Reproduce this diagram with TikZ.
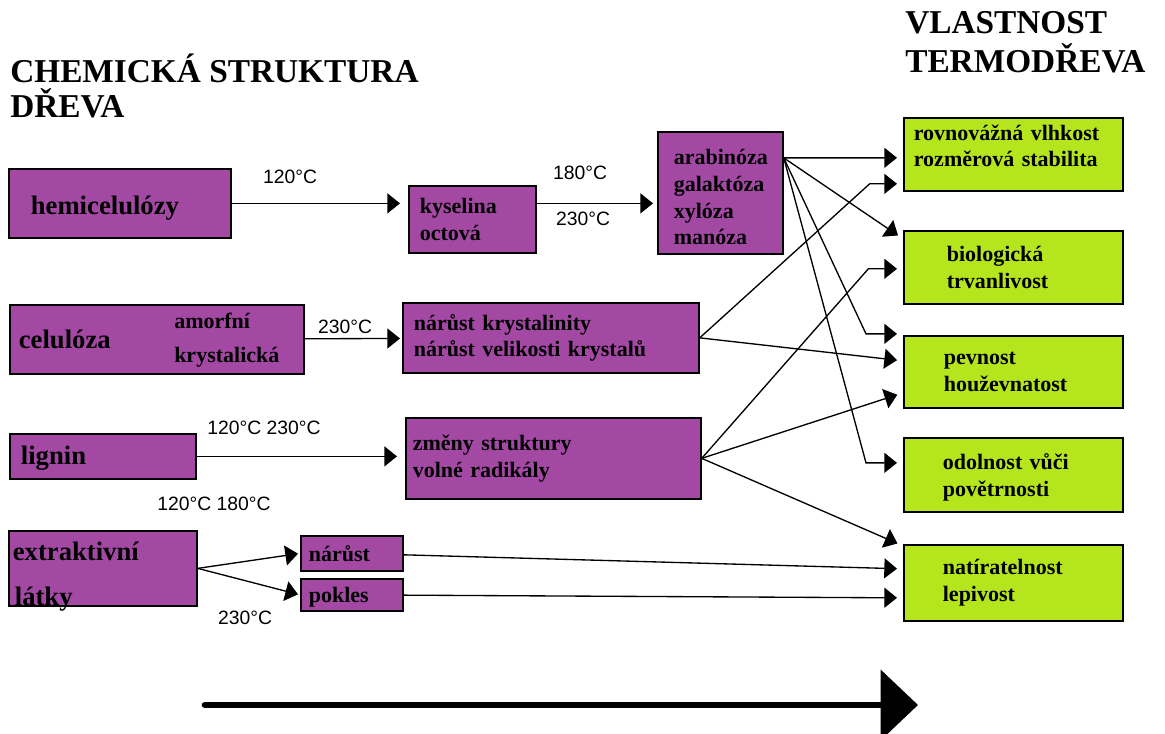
\documentclass[tikz,border=0pt]{standalone}
\usepackage{fontspec}
\setmainfont{Liberation Serif}
\newfontfamily\tempfont{Liberation Sans}
\usetikzlibrary{arrows.meta}
\definecolor{fialova}{RGB}{163,73,164}
\definecolor{zelena}{RGB}{181,230,29}
\tikzstyle{chembox}=[rectangle,anchor=north west,draw=black,line width=1.3pt,fill=fialova,align=left,inner ysep=0pt,font=\fontsize{16.5}{20}\selectfont\bfseries]
\tikzstyle{bigtext}=[font=\fontsize{20}{34}\selectfont\bfseries]
\tikzstyle{propbox}=[rectangle,anchor=north west,draw=black,line width=1.3pt,fill=zelena,align=left,inner ysep=0pt,minimum width=164.25pt,font=\fontsize{16.5}{20}\selectfont\bfseries]
\tikzstyle{teplota}=[inner sep=0pt,font=\tempfont\fontsize{14.5}{16}\selectfont]
\tikzstyle{titul}=[anchor=west,align=left,inner sep=0pt,font=\fontsize{25}{26}\selectfont\bfseries]
\tikzstyle{arrow}=[line width=1pt,->,>={Triangle[length=9.5pt,width=15pt]},shorten >=4.5pt]
\tikzstyle{bigarrow}=[line width=5pt,line cap=round,->,>={Triangle[length=28pt,width=52pt]}]

\begin{document}
\begin{tikzpicture}[x=0.75pt,y=-0.75pt]
    \useasboundingbox (0,0) rectangle (1165,734);
    % nadpisy
    \node (chemie)[titul] at (10,86) {CHEMICKÁ STRUKTURA\\DŘEVA};
    \node (vlastnost)[titul,font=\fontsize{25}{29}\selectfont\bfseries] at (905,42) {VLASTNOST\\TERMODŘEVA};
    % chemicka struktura
    \node (hemi)[chembox,bigtext,minimum width=166.5pt,minimum height=51.75pt,inner xsep=16.5pt,text width=133.5pt] at (8,168) {\rule{0pt}{21pt}hemicelulózy};
    \node (kyselina)[chembox,minimum width=95.25pt,minimum height=50.25pt,inner xsep=8.25pt,text width=78.75pt] at (408,185) {kyselina\\octová};
    \node (cukry)[chembox,minimum width=93.75pt,minimum height=91.5pt,inner xsep=12pt,text width=69.75pt] at (657,131) {\rule{0pt}{18pt}arabinóza\\galaktóza\\xylóza\\manóza};
    \node (celuloza)[chembox,bigtext,minimum width=220.5pt,minimum height=51.75pt,inner xsep=6.75pt,text width=207pt] at (9,304) {celulóza};
    \node (celtyp)[anchor=west,align=left,inner sep=0pt,font=\fontsize{16.5}{25.5}\selectfont\bfseries] at (174,340) {amorfní\\ krystalická};
    \node (krystal)[chembox,minimum width=222pt,minimum height=52.5pt,inner xsep=8.25pt,text width=205.5pt] at (402,302) {nárůst krystalinity\\nárůst velikosti krystalů};
    \node (lignin)[chembox,bigtext,minimum width=139.5pt,minimum height=33.75pt,inner xsep=8.25pt,text width=123pt] at (9,433) {\rule{0pt}{17pt}lignin};
    \node (zmeny)[chembox,minimum width=221.25pt,minimum height=60.75pt,inner xsep=5.25pt,text width=210.75pt] at (405,417) {změny struktury\\volné radikály};
    \node (extrakt)[chembox,bigtext,minimum width=141pt,minimum height=56.25pt,inner xsep=3pt,text width=135pt] at (8,530) {\rule{0pt}{22pt}extraktivní\\ \hspace*{1.5pt}\smash{látky}};
    \node (narust)[chembox,minimum width=76.5pt,minimum height=26.25pt,inner xsep=6pt,text width=64.5pt] at (300,535) {nárůst};
    \node (pokles)[chembox,minimum width=76.5pt,minimum height=24pt,inner xsep=6pt,text width=64.5pt] at (300,578) {\rule{0pt}{15pt}pokles};
    % vlastnosti termodreva
    \node (vlhkost)[propbox,minimum height=54.75pt,inner xsep=7.5pt,text width=149.25pt] at (903,117) {rovnovážná vlhkost\\rozměrová stabilita\rule[-13pt]{0pt}{13pt}};
    \node (bio)[propbox,minimum height=54.75pt,inner xsep=32.25pt,text width=99.75pt] at (903,230) {biologická\\trvanlivost};
    \node (pevnost)[propbox,minimum height=54pt,inner xsep=30pt,text width=104.25pt] at (903,335) {pevnost\\houževnatost};
    \node (odolnost)[propbox,minimum height=55.5pt,inner xsep=29.25pt,text width=105.75pt] at (903,437) {\rule{0pt}{16pt}odolnost vůči\\povětrnosti};
    \node (natir)[propbox,minimum height=57pt,inner xsep=29.25pt,text width=105.75pt] at (903,544) {natíratelnost\\lepivost};
    % teploty
    \node (t1)[teplota] at (290,177) {120°C};
    \node (t2)[teplota] at (580,173) {180°C};
    \node (t3)[teplota] at (583,219) {230°C};
    \node (t4)[teplota] at (345,327) {230°C};
    \node (t5)[teplota] at (264,428) {120°C 230°C};
    \node (t6)[teplota] at (214,504) {120°C 180°C};
    \node (t7)[teplota] at (245,618) {230°C};
    % sipky
    \coordinate (cukryven) at ([yshift=26.25pt]cukry.east);
    \draw [arrow,shorten >=6pt] (hemi) -- (hemi -| kyselina.west);
    \draw [arrow,shorten >=3pt] (kyselina.east |- hemi) -- (cukry.west |- hemi);
    \draw [arrow,shorten >=1.5pt] (celuloza) -- (krystal);
    \draw [arrow,shorten >=6pt] (lignin) -- (lignin -| zmeny.west);
    \draw [arrow,shorten >=1.5pt] (extrakt.east) -- (narust.west);
    \draw [arrow,shorten >=1.5pt] (extrakt.east) -- (pokles.west);
    \draw [arrow] (cukryven) -- ([yshift=-2.6pt]vlhkost.west);
    \draw [arrow] (cukryven) -- ([yshift=21.4pt]bio.west);
    \draw [arrow] (cukryven) -- ([xshift=-27.75pt,yshift=28.5pt]pevnost.west) -- ([yshift=28.5pt]pevnost.west);
    \draw [arrow] (cukryven) -- ([xshift=-27.75pt,yshift=9pt]odolnost.west) -- ([yshift=9pt]odolnost.west);
    \draw [arrow] (krystal.east) -- ([xshift=-25pt,yshift=-22.1pt]vlhkost.west) -- ([yshift=-22.1pt]vlhkost.west);
    \draw [arrow] (krystal.east) -- ([yshift=8.25pt]pevnost.west);
    \draw [arrow] (zmeny.east) -- ([xshift=-26pt,yshift=-1.1pt]bio.west) -- ([yshift=-1.1pt]bio.west);
    \draw [arrow] (zmeny.east) -- ([yshift=-15.75pt]pevnost.west);
    \draw [arrow] (zmeny.east) -- ([yshift=27.75pt]natir.west);
    \draw [arrow] (narust) -- ([yshift=10.5pt]natir.west);
    \draw [arrow] (pokles) -- ([yshift=-11.25pt]natir.west);
    % velka sipka
    \coordinate (zacatek) at (205,705);
    \coordinate (konec) at (918,705);
    \draw [bigarrow] (zacatek) -- (konec);
\end{tikzpicture}
\end{document}
